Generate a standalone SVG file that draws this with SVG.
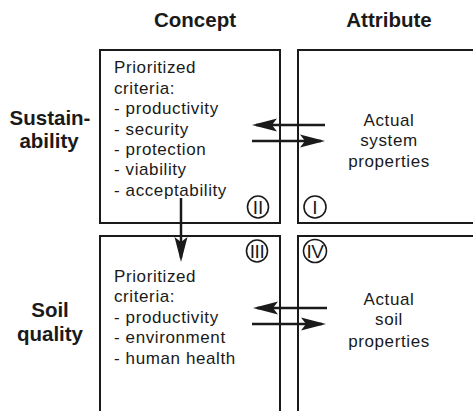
<svg xmlns="http://www.w3.org/2000/svg" width="473" height="411" viewBox="0 0 473 411">
<style>
.box{fill:none;stroke:#1a1a1a;stroke-width:2}
.hdr{font-family:"Liberation Sans",Arial,sans-serif;font-weight:bold;font-size:20.5px;fill:#1a1a1a;text-anchor:middle}
.txt{font-family:"Liberation Sans",Arial,sans-serif;font-size:17px;letter-spacing:0.6px;fill:#1a1a1a}
.ctr{text-anchor:middle}
.arr{stroke:#1a1a1a;stroke-width:2.5;fill:none;marker-end:url(#ah)}
.num{fill:#fff;stroke:#1a1a1a;stroke-width:1.6}
.numt{font-family:"Liberation Sans",Arial,sans-serif;font-size:19px;fill:#1a1a1a;text-anchor:middle}
</style>
<defs>
<marker id="ah" markerUnits="userSpaceOnUse" markerWidth="26" markerHeight="16" viewBox="0 0 26 16" refX="21" refY="8" orient="auto">
<path d="M0,1.5 L25,8 L0,14.5 L5,8 Z" fill="#1a1a1a"/>
</marker>
</defs>
<rect width="473" height="411" fill="#fff"/>
<text class="hdr" x="195" y="27">Concept</text>
<text class="hdr" x="389" y="27">Attribute</text>
<g id="row-sustainability">
<text class="hdr" x="50" y="125">Sustain-</text>
<text class="hdr" x="49" y="148">ability</text>
</g>
<g id="row-soil">
<text class="hdr" x="50" y="317">Soil</text>
<text class="hdr" x="50" y="341">quality</text>
</g>
<g id="node-II">
<rect class="box" x="100" y="50" width="180" height="173"/>
<text class="txt" x="114" y="73">Prioritized</text>
<text class="txt" x="114" y="94">criteria:</text>
<text class="txt" x="114" y="114">- productivity</text>
<text class="txt" x="114" y="135">- security</text>
<text class="txt" x="114" y="155">- protection</text>
<text class="txt" x="114" y="175">- viability</text>
<text class="txt" x="114" y="196">- acceptability</text>
<ellipse class="num" cx="258" cy="207" rx="10.5" ry="11"/>
<text class="numt" x="258" y="214">II</text>
</g>
<g id="node-I">
<path class="box" d="M474,50 H298 V223 H474"/>
<text class="txt ctr" x="389" y="126">Actual</text>
<text class="txt ctr" x="389" y="146">system</text>
<text class="txt ctr" x="389" y="167">properties</text>
<ellipse class="num" cx="315" cy="207" rx="11" ry="11"/>
<text class="numt" x="315" y="214">I</text>
</g>
<g id="node-III">
<path class="box" d="M100,411 V236 H280 V411"/>
<text class="txt" x="114" y="282">Prioritized</text>
<text class="txt" x="114" y="302">criteria:</text>
<text class="txt" x="114" y="323">- productivity</text>
<text class="txt" x="114" y="343">- environment</text>
<text class="txt" x="114" y="364">- human health</text>
<ellipse class="num" cx="257" cy="251" rx="10.5" ry="11"/>
<text class="numt" x="257" y="258" letter-spacing="-0.5">III</text>
</g>
<g id="node-IV">
<path class="box" d="M474,236 H298 V411"/>
<text class="txt ctr" x="389" y="305">Actual</text>
<text class="txt ctr" x="389" y="325">soil</text>
<text class="txt ctr" x="389" y="347">properties</text>
<ellipse class="num" cx="315" cy="251" rx="11.5" ry="11.5"/>
<text class="numt" x="315" y="258" letter-spacing="-0.5">IV</text>
</g>
<g id="connectors">
<line class="arr" x1="325" y1="125" x2="256" y2="125"/>
<line class="arr" x1="252" y1="141" x2="321" y2="141"/>
<line class="arr" x1="327" y1="308" x2="257" y2="308"/>
<line class="arr" x1="252" y1="324" x2="322" y2="324"/>
<line class="arr" x1="181" y1="198" x2="181" y2="258"/>
</g>
</svg>
